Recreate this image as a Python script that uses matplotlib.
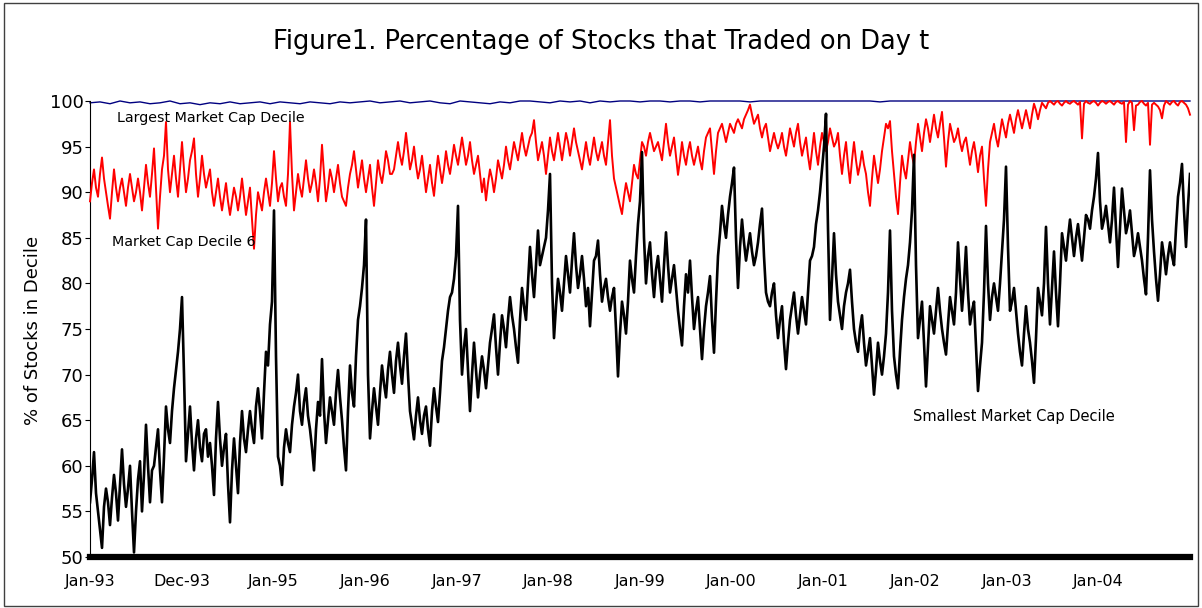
import numpy as np
import pandas as pd
import matplotlib
matplotlib.use("Agg")
import matplotlib.pyplot as plt
from matplotlib.patches import Rectangle

# Valores (un punto cada ~5 días hábiles, 1993-2004)
smallest = [
    56.0, 58.5, 61.5, 57.0, 55.0, 53.0, 51.0, 55.5, 57.5, 56.0, 53.5, 56.5, 59.0, 57.0, 54.0, 58.0, 61.8, 58.0, 55.5, 57.5,
    60.0, 55.0, 50.5, 55.0, 58.5, 60.5, 55.0, 59.0, 64.5, 60.0, 56.0, 59.5, 60.0, 62.0, 64.0, 59.5, 56.0, 61.0, 66.5, 64.0,
    62.5, 66.0, 68.5, 70.5, 72.5, 75.0, 78.5, 70.0, 60.5, 63.5, 66.5, 62.5, 59.5, 63.0, 65.0, 62.0, 60.5, 63.5, 64.0, 61.0,
    62.5, 60.0, 56.8, 63.0, 67.0, 63.0, 60.0, 62.0, 63.5, 58.0, 53.8, 59.5, 63.0, 60.0, 57.0, 62.5, 66.0, 63.0, 61.5, 64.0,
    66.0, 64.0, 62.5, 66.5, 68.5, 66.0, 63.0, 68.0, 72.5, 71.0, 75.5, 78.0, 88.0, 72.0, 61.0, 60.0, 57.9, 62.0, 64.0, 62.5,
    61.5, 64.5, 66.5, 68.0, 70.0, 66.0, 64.5, 67.0, 68.5, 65.5, 64.0, 62.0, 59.5, 64.0, 67.0, 65.5, 71.7, 66.0, 62.5, 65.0,
    67.5, 66.0, 64.5, 68.0, 70.5, 67.5, 65.0, 62.0, 59.5, 66.0, 71.0, 68.0, 66.5, 72.0, 76.0, 77.5, 79.5, 82.0, 87.0, 70.0,
    63.0, 66.0, 68.5, 66.5, 64.5, 68.0, 71.0, 69.0, 67.5, 70.5, 72.5, 70.0, 68.0, 71.5, 73.5, 71.0, 69.0, 72.0, 74.5, 70.0,
    66.0, 64.5, 62.9, 65.5, 67.5, 65.0, 63.5, 65.5, 66.5, 64.0, 62.2, 66.0, 68.5, 66.5, 64.8, 68.0, 71.5, 73.0, 75.0, 77.0,
    78.5, 79.0, 80.5, 83.0, 88.5, 76.0, 70.0, 73.0, 75.0, 70.5, 66.0, 70.0, 73.5, 70.5, 67.5, 70.0, 72.0, 70.5, 68.5, 71.0,
    73.5, 75.0, 76.6, 73.0, 70.0, 73.5, 76.5, 75.0, 73.0, 76.0, 78.5, 76.5, 75.0, 73.0, 71.3, 76.0, 79.5, 77.5, 76.0, 80.0,
    84.0, 81.0, 78.5, 82.0, 85.8, 82.0, 83.0, 84.0, 85.0, 88.0, 92.0, 80.0, 74.0, 77.5, 80.5, 79.0, 77.0, 80.0, 83.0, 81.0,
    79.0, 82.5, 85.5, 82.0, 79.5, 81.0, 83.0, 80.5, 77.5, 79.5, 75.3, 79.0, 82.5, 83.0, 84.7, 81.0, 78.0, 79.5, 80.5, 78.5,
    77.0, 78.5, 79.5, 75.0, 69.8, 74.5, 78.0, 76.5, 74.5, 78.0, 82.5, 80.5, 79.0, 83.0, 86.5, 89.0, 94.4, 85.0, 80.0, 83.0,
    84.5, 81.0, 78.5, 81.5, 83.0, 80.5, 78.0, 82.0, 85.6, 82.0, 79.0, 80.5, 82.0, 79.5, 77.0, 75.0, 73.2, 77.5, 81.0, 79.0,
    82.5, 78.5, 75.0, 77.0, 78.5, 75.0, 71.7, 75.0, 77.5, 79.0, 80.8, 76.0, 72.4, 78.0, 83.0, 85.5, 88.5, 86.5, 85.0, 87.5,
    89.5, 91.0, 92.7, 85.0, 79.5, 84.0, 87.0, 84.5, 82.5, 84.0, 85.5, 83.5, 82.0, 83.0, 84.5, 86.5, 88.2, 83.0, 79.0, 78.0,
    77.5, 79.0, 80.0, 76.5, 74.0, 76.0, 77.5, 73.5, 70.6, 73.5, 76.0, 77.5, 79.0, 76.5, 74.5, 76.5, 78.5, 77.0, 75.5, 79.0,
    82.5, 83.0, 84.0, 86.5, 88.0, 90.0, 92.5, 95.0, 98.6, 86.0, 76.0, 80.5, 85.5, 81.0, 78.0, 76.5, 75.0, 77.5, 79.0, 80.0,
    81.5, 78.0, 75.0, 73.5, 72.5, 75.0, 76.5, 73.5, 71.0, 72.5, 74.0, 71.0, 67.8, 70.5, 73.5, 71.5, 70.0, 72.0, 74.5, 79.0,
    85.8, 77.0, 72.0, 70.0, 68.5, 72.5, 76.0, 78.5, 80.5, 82.0, 84.5, 88.0, 94.1, 82.0, 74.0, 76.0, 78.0, 73.5, 68.7, 73.0,
    77.5, 76.0, 74.5, 77.0, 79.5, 77.0, 75.0, 73.5, 72.2, 75.5, 78.5, 77.0, 75.5, 79.0, 84.5, 80.5, 77.0, 80.0, 84.0, 79.0,
    75.5, 77.0, 78.0, 73.0, 68.2, 71.0, 73.5, 79.0, 86.3, 80.0, 76.0, 78.5, 80.0, 78.5, 77.0, 80.0, 83.5, 87.0, 92.8, 84.0,
    77.0, 78.0, 79.5, 77.0, 74.5, 72.5, 71.0, 74.5, 77.5, 75.0, 73.5, 71.5, 69.1, 74.0, 79.5, 78.0, 76.5, 80.0, 86.2, 80.0,
    75.5, 79.5, 83.5, 79.0, 75.3, 80.0, 85.5, 84.0, 82.5, 85.0, 87.0, 85.0, 83.0, 85.0, 86.5, 84.5, 82.5, 85.0, 87.5, 87.0,
    86.0, 88.0, 89.5, 91.5, 94.3, 89.0, 86.0, 87.0, 88.5, 86.5, 84.5, 87.0, 90.5, 86.0, 81.8, 86.0, 90.4, 88.0, 85.5, 86.5,
    88.0, 85.5, 83.0, 84.0, 85.5, 84.0, 82.5, 80.5, 78.8, 85.0, 92.4, 87.0, 83.5, 80.5, 78.1, 81.0, 84.5, 83.0, 81.0, 83.0,
    84.5, 83.0, 82.0, 86.0, 89.5, 91.0, 93.1, 88.0, 84.0, 88.5, 92.0,
]

decile6 = [
    89.0, 91.0, 92.5, 90.5, 89.5, 92.0, 93.8, 91.5, 90.0, 88.5, 87.1, 90.0, 92.5, 90.5, 89.0, 90.5, 91.5, 90.0, 88.5, 90.5,
    92.0, 90.5, 89.0, 90.0, 91.5, 90.0, 88.0, 90.5, 93.0, 91.0, 89.5, 92.0, 94.8, 90.5, 86.0, 89.5, 92.5, 94.0, 97.7, 92.5,
    90.0, 92.0, 94.0, 91.5, 89.5, 92.5, 95.5, 92.5, 90.0, 91.5, 93.5, 94.5, 95.9, 92.0, 89.5, 91.5, 94.0, 92.0, 90.5, 91.5,
    92.5, 90.0, 88.5, 90.0, 91.5, 89.5, 88.0, 89.5, 91.0, 89.0, 87.5, 89.0, 90.5, 89.5, 88.0, 89.5, 91.5, 89.5, 87.5, 89.0,
    90.5, 87.0, 83.8, 87.5, 90.0, 89.0, 88.0, 90.0, 91.5, 90.0, 88.5, 91.0, 94.5, 91.5, 89.0, 90.5, 91.0, 89.5, 88.5, 92.0,
    97.7, 92.0, 88.0, 90.0, 92.0, 90.5, 89.5, 91.5, 93.5, 91.5, 90.0, 91.0, 92.5, 91.0, 89.0, 91.5, 95.2, 92.0, 89.0, 90.5,
    92.5, 91.5, 90.0, 91.5, 93.0, 91.0, 89.5, 89.0, 88.5, 90.5, 92.0, 93.0, 94.5, 92.5, 90.5, 92.0, 93.5, 91.5, 90.0, 91.5,
    93.0, 90.5, 88.5, 91.0, 93.5, 92.0, 91.0, 92.5, 94.5, 93.5, 92.0, 92.0, 92.5, 94.0, 95.5, 94.0, 93.0, 94.5, 96.5, 94.5,
    92.5, 93.5, 95.0, 93.0, 91.5, 92.5, 94.0, 92.0, 90.0, 91.5, 93.0, 91.0, 89.6, 92.0, 94.0, 92.5, 91.0, 92.5, 94.5, 93.0,
    92.0, 93.5, 95.2, 94.0, 93.0, 94.5, 96.0, 94.5, 93.0, 94.0, 95.5, 93.5, 92.0, 93.0, 94.0, 92.0, 90.0, 91.5, 89.1, 91.0,
    92.5, 91.5, 90.0, 91.5, 93.5, 92.5, 91.5, 93.0, 95.0, 93.5, 92.5, 94.0, 95.5, 94.5, 93.5, 95.0, 96.5, 95.0, 94.0, 95.0,
    96.0, 96.5, 97.9, 95.5, 93.5, 94.5, 95.5, 94.0, 92.0, 94.0, 96.0, 94.5, 93.5, 95.0, 96.5, 95.0, 93.5, 95.0, 96.5, 95.5,
    94.0, 95.5, 97.0, 95.5, 94.5, 93.5, 92.5, 94.0, 95.5, 94.0, 93.0, 94.5, 96.0, 94.5, 93.5, 94.5, 95.5, 94.0, 93.0, 95.5,
    97.9, 94.0, 91.5, 90.5, 89.5, 88.5, 87.6, 89.5, 91.0, 90.0, 89.0, 91.0, 93.0, 92.0, 91.5, 93.5, 95.5, 95.0, 94.0, 95.5,
    96.5, 95.5, 94.5, 95.0, 95.5, 94.5, 93.5, 95.5, 97.5, 95.5, 94.0, 95.0, 96.0, 94.0, 91.9, 93.5, 95.5, 94.0, 93.0, 94.5,
    95.5, 94.0, 93.0, 94.0, 95.0, 93.5, 92.5, 94.5, 96.0, 96.5, 97.0, 94.5, 92.0, 94.5, 96.5, 97.0, 97.5, 96.5, 95.5, 96.5,
    97.5, 97.0, 96.5, 97.5, 98.0, 97.5, 97.0, 98.0, 98.5, 99.0, 99.6, 98.5, 97.5, 98.0, 98.5, 97.0, 96.0, 97.0, 97.5, 96.0,
    94.5, 95.5, 96.5, 95.5, 94.8, 95.5, 96.5, 95.0, 94.0, 95.5, 97.0, 96.0, 95.0, 96.5, 97.5, 95.5, 94.0, 95.0, 96.0, 94.0,
    92.5, 94.5, 96.5, 94.5, 93.0, 95.0, 96.5, 95.5, 94.5, 95.5, 97.0, 96.0, 95.0, 95.5, 96.5, 94.0, 92.0, 94.0, 95.5, 93.0,
    91.0, 93.5, 95.5, 93.5, 91.9, 93.0, 94.5, 93.0, 92.0, 90.0, 88.5, 91.5, 94.0, 92.5, 91.0, 92.5, 94.5, 96.0, 97.5, 97.0,
    97.8, 94.5, 92.0, 89.5, 87.6, 91.0, 94.0, 92.5, 91.5, 93.5, 95.5, 94.0, 93.0, 95.5, 97.5, 96.0, 94.5, 96.5, 98.0, 97.0,
    95.5, 97.0, 98.5, 97.0, 96.0, 97.5, 98.8, 96.0, 92.8, 95.5, 97.5, 96.5, 95.5, 96.0, 97.0, 95.5, 94.5, 95.5, 96.0, 94.5,
    93.0, 94.5, 95.5, 94.0, 92.2, 94.0, 95.0, 91.5, 88.5, 92.5, 95.5, 96.5, 97.5, 96.0, 95.0, 96.5, 98.0, 97.0, 96.0, 97.5,
    98.5, 97.5, 96.5, 98.0, 99.0, 98.0, 97.0, 98.0, 99.0, 98.0, 97.0, 98.5, 99.7, 99.0, 98.0, 99.0, 99.8, 99.5, 99.2, 99.8,
    100.0, 99.8, 99.6, 99.9, 100.0, 99.7, 99.5, 99.8, 100.0, 99.8, 99.7, 99.9, 100.0, 99.8, 99.6, 99.9, 95.9, 99.7, 100.0, 99.8,
    99.7, 99.9, 100.0, 99.8, 99.5, 99.8, 100.0, 99.9, 99.7, 99.9, 100.0, 99.8, 99.6, 99.9, 100.0, 99.8, 99.7, 99.9, 95.5, 99.6,
    100.0, 99.8, 96.8, 99.5, 99.6, 99.9, 100.0, 99.7, 99.5, 99.8, 95.2, 99.6, 99.8, 99.6, 99.4, 99.0, 98.1, 99.5, 100.0, 99.8,
    99.6, 99.9, 100.0, 99.7, 99.5, 99.9, 100.0, 99.8, 99.6, 99.2, 98.5,
]

largest = [
    99.8, 99.9, 99.7, 100.0, 99.8, 99.9, 99.7, 99.8, 100.0, 99.7,
    99.8, 99.6, 99.8, 99.7, 99.9, 99.7, 99.8, 99.9, 99.7, 99.9,
    99.8, 99.7, 99.9, 99.8, 99.7, 99.9, 99.8, 99.9, 100.0, 99.8,
    99.9, 100.0, 99.8, 99.9, 100.0, 99.8, 99.7, 100.0, 99.9, 99.8,
    99.7, 99.9, 99.8, 100.0, 100.0, 99.9, 99.8, 100.0, 99.9, 100.0,
    99.8, 100.0, 99.9, 100.0, 100.0, 99.9, 100.0, 100.0, 99.9, 100.0,
    100.0, 99.9, 100.0, 100.0, 100.0, 100.0, 99.9, 100.0, 100.0, 100.0,
    100.0, 100.0, 100.0, 100.0, 100.0, 100.0, 100.0, 100.0, 100.0, 99.9,
    100.0, 100.0, 100.0, 100.0, 100.0, 100.0, 100.0, 100.0, 100.0, 100.0,
    100.0, 100.0, 100.0, 100.0, 100.0, 100.0, 100.0, 100.0, 100.0, 100.0,
    100.0, 100.0, 100.0, 100.0, 100.0, 100.0, 100.0, 100.0, 100.0, 100.0,
    100.0,
]

tick_dates = ['1993-01-01', '1994-01-01', '1995-01-01', '1996-01-01',
              '1997-01-01', '1998-01-01', '1999-01-01', '2000-01-01',
              '2001-01-01', '2002-01-01', '2003-01-01', '2004-01-01']
tick_labels = ['Jan-93', 'Dec-93', 'Jan-95', 'Jan-96', 'Jan-97', 'Jan-98',
               'Jan-99', 'Jan-00', 'Jan-01', 'Jan-02', 'Jan-03', 'Jan-04']

start, end = '1993-01-01', '2004-12-31'

W, H = 1202, 608
fig = plt.figure(figsize=(W / 100, H / 100), dpi=100)
ax = fig.add_axes([90 / W, 1 - 557 / H, 1100 / W, 456 / H])

# Series (azul al fondo, negro encima)
d_large = pd.date_range(start, end, periods=len(largest))
d_mid = pd.date_range(start, end, periods=len(decile6))
d_small = pd.date_range(start, end, periods=len(smallest))
ax.plot(d_large, largest, color='#000080', lw=1.0, clip_on=False, zorder=2)
ax.plot(d_mid, decile6, color='#ff0000', lw=1.4, clip_on=False, zorder=3)
ax.plot(d_small, smallest, color='black', lw=1.9, zorder=4)

ax.set_xlim(pd.Timestamp(start), pd.Timestamp(end))
ax.set_ylim(50, 100)
ax.set_yticks(np.arange(50, 101, 5))
ax.set_xticks(pd.to_datetime(tick_dates))
ax.set_xticklabels(tick_labels)

ax.spines['top'].set_visible(False)
ax.spines['right'].set_visible(False)
ax.spines['left'].set_linewidth(0.8)
ax.spines['bottom'].set_linewidth(4.5)
ax.tick_params(axis='y', direction='out', length=3.5, width=0.8, pad=1, labelsize=13)
ax.tick_params(axis='x', length=0, pad=12, labelsize=11.5)

# Textos
fig.text(0.5, 1 - 42 / H, 'Figure1. Percentage of Stocks that Traded on Day t',
         ha='center', va='center', fontsize=18.5)
fig.text(33 / W, 1 - 330 / H, '% of Stocks in Decile', rotation=90,
         ha='center', va='center', fontsize=13)
fig.text(117 / W, 1 - 118 / H, 'Largest Market Cap Decile', ha='left', va='center', fontsize=10.3)
fig.text(112 / W, 1 - 242 / H, 'Market Cap Decile 6', ha='left', va='center', fontsize=10.3)
fig.text(913 / W, 1 - 416 / H, 'Smallest Market Cap Decile', ha='left', va='center', fontsize=10.5)

# Marco exterior
fig.patches.append(Rectangle((4 / W, 2 / H), 1194 / W, 603 / H, transform=fig.transFigure,
                             fill=False, edgecolor='#404040', lw=1))

fig.savefig('out.png', dpi=100)
